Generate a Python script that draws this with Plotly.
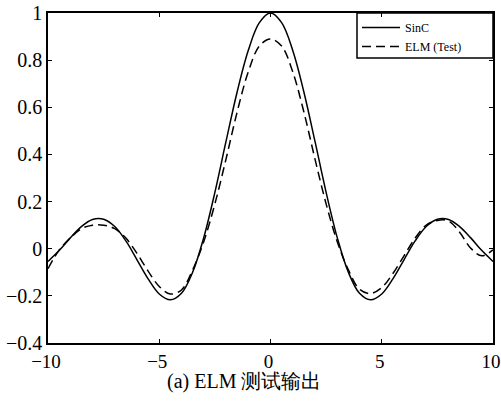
import plotly.graph_objects as go

# x positions (read at 0.5 steps)
x_vals = [-10, -9.5, -9, -8.5, -8, -7.5, -7, -6.5, -6, -5.5, -5, -4.5, -4, -3.5, -3,
          -2.5, -2, -1.5, -1, -0.5, 0, 0.5, 1, 1.5, 2, 2.5, 3, 3.5, 4, 4.5, 5,
          5.5, 6, 6.5, 7, 7.5, 8, 8.5, 9, 9.5, 10]

sinc_vals = [-0.054, -0.008, 0.046, 0.094, 0.124, 0.125, 0.094, 0.033, -0.047, -0.128,
             -0.192, -0.217, -0.189, -0.100, 0.047, 0.239, 0.455, 0.665, 0.841, 0.959,
             1.000, 0.959, 0.841, 0.665, 0.455, 0.239, 0.047, -0.100, -0.189, -0.217,
             -0.192, -0.128, -0.047, 0.033, 0.094, 0.125, 0.124, 0.094, 0.046, -0.008,
             -0.054]

elm_vals = [-0.085, -0.006, 0.045, 0.085, 0.100, 0.100, 0.085, 0.045, -0.020, -0.095,
            -0.160, -0.192, -0.175, -0.090, 0.030, 0.190, 0.380, 0.580, 0.750, 0.860,
            0.890, 0.860, 0.750, 0.580, 0.380, 0.190, 0.030, -0.090, -0.172, -0.190,
            -0.165, -0.105, -0.030, 0.045, 0.100, 0.120, 0.118, 0.070, 0.002, -0.030,
            -0.005]

x_ticks = [-10, -5, 0, 5, 10]
x_ticklabels = ["\u221210", "\u22125", "0", "5", "10"]
y_ticks = [-0.4, -0.2, 0, 0.2, 0.4, 0.6, 0.8, 1]
y_ticklabels = ["\u22120.4", "\u22120.2", "0", "0.2", "0.4", "0.6", "0.8", "1"]

series_names = ["SinC", "ELM (Test)"]
caption = "(a) ELM 测试输出"

serif = "Liberation Serif"

fig = go.Figure()
fig.add_trace(go.Scatter(x=x_vals, y=sinc_vals, mode="lines", name=series_names[0],
                         line=dict(color="black", width=1.5, shape="spline", smoothing=1)))
fig.add_trace(go.Scatter(x=x_vals, y=elm_vals, mode="lines", name=series_names[1],
                         line=dict(color="black", width=1.5, dash="9px,5px",
                                   shape="spline", smoothing=1)))

axis_common = dict(showgrid=False, zeroline=False, showline=True, linecolor="black",
                   linewidth=1.5, mirror="ticks", ticks="inside", ticklen=4,
                   tickwidth=1, tickcolor="black", ticklabeloverflow="allow",
                   automargin=False)

fig.update_xaxes(range=[-10, 10], tickvals=x_ticks, ticktext=x_ticklabels,
                 ticklabelshift=-2, ticklabelstandoff=0,
                 tickfont=dict(family=serif, size=19, color="black"), **axis_common)
fig.update_yaxes(range=[-0.4, 1], tickvals=y_ticks, ticktext=y_ticklabels,
                 tickfont=dict(family=serif, size=20, color="black"), **axis_common)

# plot area in pixels
L, R, T, B = 48, 493, 13, 343
def px_x(p):
    return (p - L) / (R - L)
def px_y(p):
    return (B - p) / (B - T)

fig.update_layout(
    width=501, height=403,
    margin=dict(l=L, r=501 - R, t=T, b=403 - B),
    plot_bgcolor="white", paper_bgcolor="white",
    showlegend=True,
    font=dict(family=serif, color="black"),
    legend=dict(x=px_x(357), y=1, xanchor="left", yanchor="top",
                bgcolor="rgba(0,0,0,0)", borderwidth=0, itemwidth=38,
                font=dict(family=serif, size=12, color="black"),
                tracegroupgap=0),
    shapes=[dict(type="rect", xref="paper", yref="paper",
                 x0=px_x(357), x1=1, y0=px_y(58), y1=1,
                 line=dict(color="black", width=1.5), fillcolor="white", layer="below")],
    annotations=[dict(text=caption, xref="paper", yref="paper", x=px_x(244), y=px_y(381),
                      xanchor="center", yanchor="middle", showarrow=False,
                      font=dict(family=serif, size=20, color="black"))],
)

fig.write_html("out.html")
